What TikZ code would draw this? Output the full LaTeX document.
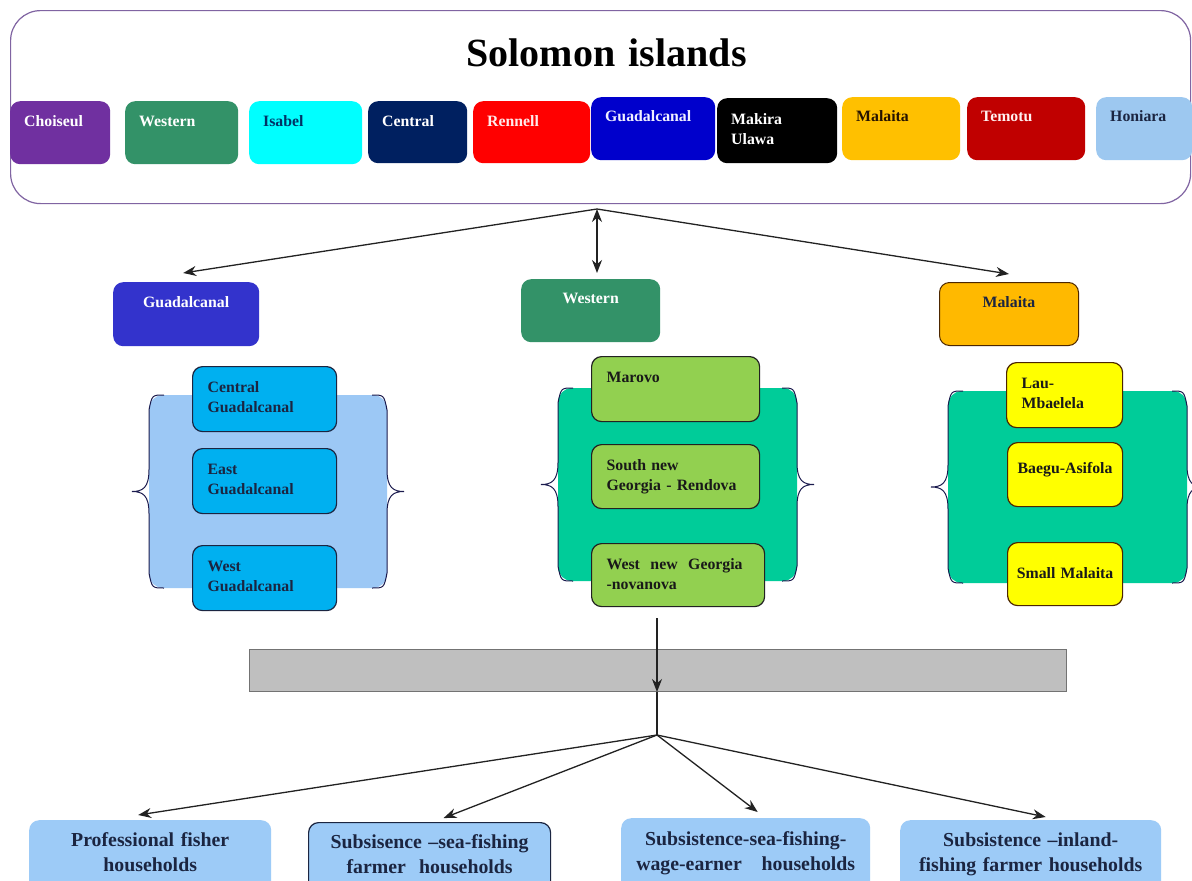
\documentclass[tikz,border=0pt]{standalone}
\usepackage{fontspec}
\setmainfont{Liberation Serif}
\usepackage{tikz}
\usetikzlibrary{arrows.meta,calc}
\usepackage{xcolor}
\definecolor{framec}{HTML}{8064A2}
\definecolor{choiseulc}{HTML}{7030A0}
\definecolor{westernc}{HTML}{339268}
\definecolor{isabelc}{HTML}{00FFFF}
\definecolor{centralc}{HTML}{002060}
\definecolor{rennellc}{HTML}{FF0000}
\definecolor{guadc}{HTML}{0000CC}
\definecolor{makirac}{HTML}{000000}
\definecolor{malaitac}{HTML}{FFC000}
\definecolor{temotuc}{HTML}{C00000}
\definecolor{honiarac}{HTML}{9DC8F0}
\definecolor{guadmid}{HTML}{3333CC}
\definecolor{malmid}{HTML}{FFB900}
\definecolor{cyanbox}{HTML}{00B0F0}
\definecolor{limebox}{HTML}{92D050}
\definecolor{yellowbox}{HTML}{FFFF00}
\definecolor{panelblue}{HTML}{9CC8F5}
\definecolor{panelgreen}{HTML}{00CC99}
\definecolor{barg}{HTML}{BFBFBF}
\definecolor{hhblue}{HTML}{9DCBF7}
\definecolor{darktext}{HTML}{1B2541}
\definecolor{darkline}{HTML}{222222}

\newcommand{\boxfont}{\fontsize{15.8}{20}\selectfont\bfseries}
\newcommand{\titlefont}{\fontsize{40}{48}\selectfont\bfseries}
\newcommand{\hhfont}{\fontsize{19.8}{25}\selectfont\bfseries}

% light panel with a curly brace on each side
\newcommand{\bracepanel}[5]{%
  \fill[#5, rounded corners=14pt] (#1,#3) rectangle (#2,#4);
  \draw[brace] ({#1+15},#3) .. controls ({#1+3},#3) .. (#1,{#3+15})
    -- (#1,{(#3+#4)/2-22}) .. controls (#1,{(#3+#4)/2-4}) and ({#1-6},{(#3+#4)/2}) .. ({#1-17},{(#3+#4)/2})
    .. controls ({#1-6},{(#3+#4)/2}) and (#1,{(#3+#4)/2+4}) .. (#1,{(#3+#4)/2+22})
    -- (#1,{#4-15}) .. controls ({#1+3},#4) .. ({#1+15},#4);
  \draw[brace] ({#2-15},#3) .. controls ({#2-3},#3) .. (#2,{#3+15})
    -- (#2,{(#3+#4)/2-22}) .. controls (#2,{(#3+#4)/2-4}) and ({#2+6},{(#3+#4)/2}) .. ({#2+17},{(#3+#4)/2})
    .. controls ({#2+6},{(#3+#4)/2}) and (#2,{(#3+#4)/2+4}) .. (#2,{(#3+#4)/2+22})
    -- (#2,{#4-15}) .. controls ({#2-3},#4) .. ({#2-15},#4);
}

\begin{document}
\begin{tikzpicture}[x=1pt,y=-1pt,>={Stealth[length=13pt,width=10pt]},
  region/.style={anchor=north west, rounded corners=10pt, inner xsep=14pt, inner ysep=8pt,
    text height=17pt, text depth=30pt, align=left, font=\boxfont, text=white},
  province/.style={anchor=north west, rounded corners=10pt, inner xsep=8pt, inner ysep=8pt,
    text height=17pt, text depth=31pt, align=center, font=\boxfont, text=white},
  district/.style={anchor=north west, rounded corners=10pt, draw=#1, line width=1.2pt,
    inner xsep=15pt, inner ysep=8pt, text height=18pt, text depth=31pt, align=left, font=\boxfont},
  household/.style={anchor=north west, rounded corners=10pt, fill=hhblue, inner xsep=10pt,
    inner ysep=6pt, text height=20pt, text depth=60pt, align=center, font=\hhfont, text=darktext},
  brace/.style={line width=1pt, draw=darkline!80!blue},
  link/.style={->, line width=1.3pt, draw=darkline}]

  \useasboundingbox (0,0) rectangle (1192,881);
  \fill[white] (0,0) rectangle (1192,881);
  \clip (0,0) rectangle (1192,881);

  % country frame with the ten provinces
  \node[anchor=north west, draw=framec, line width=1.2pt, rounded corners=30pt, inner xsep=10pt,
    inner ysep=8pt, text width=1160pt, text height=48pt, text depth=129pt, align=center,
    font=\titlefont] (sol) at (10,10) {\hspace*{12pt}Solomon islands};
  \node[region, fill=choiseulc, text width=72pt] (choiseul) at (10,101) {Choiseul};
  \node[region, fill=westernc, text width=85pt] (western) at (125,101) {Western};
  \node[region, fill=isabelc, text=centralc!80!teal, text width=85pt] (isabel) at (249,101) {Isabel};
  \node[region, fill=centralc, text width=71pt, text depth=29pt] (central) at (368,101) {Central};
  \node[region, fill=rennellc, text=red!8, text width=89pt, text depth=29pt] (rennell) at (473,101) {Rennell};
  \node[region, fill=guadc, text=blue!6, text width=96pt, text height=16pt, text depth=31pt] (guadalcanal) at (591,97) {Guadalcanal};
  \node[region, fill=makirac, text width=92pt, text height=18pt, text depth=31pt] (makira) at (717,98) {Makira\\Ulawa};
  \node[region, fill=malaitac, text=black!85!orange, text width=90pt, text height=16pt, text depth=31pt] (malaita) at (842,97) {Malaita};
  \node[region, fill=temotuc, text=red!6, text width=90pt, text height=16pt, text depth=31pt] (temotu) at (967,97) {Temotu};
  \node[region, fill=honiarac, text=darktext, text width=68pt, text height=16pt, text depth=31pt] (honiara) at (1096,97) {Honiara};

  % three provinces taken further
  \node[province, fill=guadmid, text width=130pt] (guadm) at (113,282) {Guadalcanal};
  \node[province, fill=westernc, text width=123pt, text height=16pt] (westm) at (521,279) {Western};
  \node[province, fill=malmid, draw=black!70!orange, line width=1pt, text=darktext,
    text width=123pt, text depth=30pt] (malm) at (939,282) {Malaita};

  \coordinate (fork) at (597,209);
  \draw[link] (fork) -- ([xshift=-3pt,yshift=9pt]guadm.north);
  \draw[link, <->] (fork) -- ([yshift=6pt]fork |- westm.north);
  \draw[link] (fork) -- ([yshift=8pt]malm.north);

  % panels with the districts
  \bracepanel{149}{387}{395}{588}{panelblue}
  \bracepanel{558}{797}{388}{581}{panelgreen}
  \bracepanel{948}{1187}{391}{583}{panelgreen}

  \node[district=darktext, fill=cyanbox, text=darktext, text width=114pt] (cguad) at (192,366) {Central\\Guadalcanal};
  \node[district=darktext, fill=cyanbox, text=darktext, text width=114pt] (eguad) at (192,448) {East\\Guadalcanal};
  \node[district=darktext, fill=cyanbox, text=darktext, text width=114pt] (wguad) at (192,545) {West\\Guadalcanal};

  \node[district=darkline, fill=limebox, text=black!90, text width=138pt] (marovo) at (591,356) {Marovo};
  \node[district=darkline, fill=limebox, text=black!90, text width=138pt, text depth=30pt] (sng) at (591,444) {South new\\Georgia - Rendova};
  \node[district=darkline, fill=limebox, text=black!90, text width=143pt, text depth=29pt] (wng) at (591,543) {West\ \ new\ \ Georgia\\-novanova};

  \node[district=black!70!orange, fill=yellowbox, text=black!90, text width=86pt] (lau) at (1006,362) {Lau-\\Mbaelela};
  \node[district=black!70!orange, fill=yellowbox, text=black!90, inner xsep=6pt, text width=103pt,
    align=center, text height=23pt, text depth=25pt] (baegu) at (1007,442) {Baegu-Asifola};
  \node[district=black!70!orange, fill=yellowbox, text=black!90, inner xsep=6pt, text width=103pt,
    align=center, text height=28pt, text depth=19pt] (smallmal) at (1007,542) {Small Malaita};

  % grey bar and the four household types
  \node[anchor=north west, fill=barg, draw=black!55, line width=1pt, minimum width=817pt,
    minimum height=42pt, inner sep=0pt] (bar) at (249,649) {};
  \coordinate (drop) at (657,618);
  \coordinate (hub) at (657,735);
  \draw[link] (drop) -- (drop |- bar.south);
  \draw[line width=1.3pt, draw=darkline] (bar.south -| hub) -- (hub);

  \node[household, text width=222pt] (prof) at (29,820) {Professional fisher\\households};
  \node[household, draw=darktext, line width=1.2pt, text width=222pt] (subs) at (308,822) {Subsisence --sea-fishing\\farmer\ \ households};
  \node[household, text width=229pt, text height=21pt] (wage) at (621,818) {Subsistence-sea-fishing-\\wage-earner\quad households};
  \node[household, text width=241pt] (inland) at (900,820) {Subsistence --inland-\\fishing farmer households};

  \draw[link] (hub) -- ([xshift=-12pt,yshift=5pt]prof.north);
  \draw[link] (hub) -- ([xshift=14pt,yshift=4pt]subs.north);
  \draw[link] (hub) -- ([xshift=12pt,yshift=6pt]wage.north);
  \draw[link] (hub) -- ([xshift=15pt,yshift=3pt]inland.north);
\end{tikzpicture}
\end{document}
